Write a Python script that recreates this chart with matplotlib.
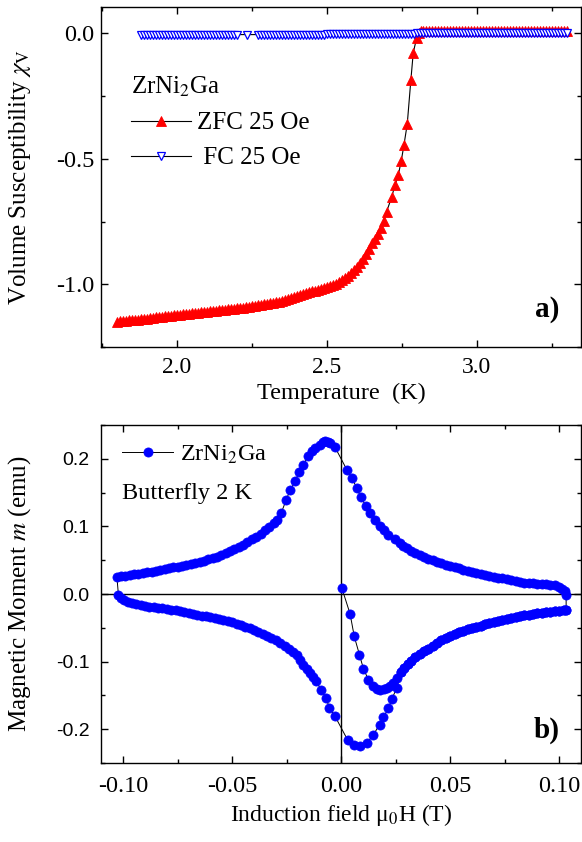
import matplotlib
matplotlib.use('Agg')
from matplotlib import pyplot as plt
from matplotlib.ticker import MultipleLocator

# ZFC susceptibility, 25 Oe
zfcT = [1.80, 1.81, 1.82, 1.83, 1.84, 1.85, 1.86, 1.87, 1.88, 1.89,
        1.90, 1.91, 1.92, 1.93, 1.94, 1.95, 1.96, 1.97, 1.98, 1.99,
        2.00, 2.01, 2.02, 2.03, 2.04, 2.05, 2.06, 2.07, 2.08, 2.09,
        2.10, 2.11, 2.12, 2.13, 2.14, 2.15, 2.16, 2.17, 2.18, 2.19,
        2.20, 2.21, 2.22, 2.23, 2.24, 2.25, 2.26, 2.27, 2.28, 2.29,
        2.30, 2.31, 2.32, 2.33, 2.34, 2.35, 2.36, 2.37, 2.38, 2.39,
        2.40, 2.41, 2.42, 2.43, 2.44, 2.45, 2.46, 2.47, 2.48, 2.49,
        2.50, 2.51, 2.52, 2.53, 2.54, 2.55, 2.56, 2.57, 2.58, 2.59,
        2.60, 2.61, 2.62, 2.63, 2.64, 2.65, 2.66, 2.67, 2.68, 2.69, 2.70,
        2.717, 2.728, 2.739, 2.749, 2.758, 2.769, 2.781, 2.789, 2.800, 2.808, 2.815,
        2.82, 2.83, 2.84, 2.85, 2.86, 2.87, 2.88, 2.89, 2.90, 2.91,
        2.92, 2.93, 2.94, 2.95, 2.96, 2.97, 2.98, 2.99, 3.00, 3.01,
        3.02, 3.03, 3.04, 3.05, 3.06, 3.07, 3.08, 3.09, 3.10, 3.11,
        3.12, 3.13, 3.14, 3.15, 3.16, 3.17, 3.18, 3.19, 3.20, 3.21,
        3.22, 3.23, 3.24, 3.25, 3.26, 3.27, 3.28, 3.29, 3.30]
zfcChi = [-1.149, -1.148, -1.147, -1.145, -1.144, -1.143, -1.142, -1.141, -1.139, -1.138,
          -1.137, -1.135, -1.134, -1.132, -1.131, -1.129, -1.128, -1.126, -1.125, -1.123,
          -1.122, -1.121, -1.119, -1.118, -1.117, -1.115, -1.114, -1.113, -1.111, -1.110,
          -1.109, -1.108, -1.106, -1.105, -1.104, -1.102, -1.101, -1.100, -1.098, -1.097,
          -1.096, -1.094, -1.093, -1.091, -1.090, -1.088, -1.086, -1.084, -1.082, -1.080,
          -1.078, -1.076, -1.074, -1.071, -1.069, -1.066, -1.063, -1.059, -1.055, -1.050,
          -1.046, -1.043, -1.039, -1.036, -1.032, -1.028, -1.025, -1.021, -1.018, -1.014,
          -1.010, -1.006, -1.002, -0.997, -0.991, -0.985, -0.976, -0.967, -0.957, -0.944,
          -0.930, -0.917, -0.900, -0.880, -0.858, -0.837, -0.818, -0.799, -0.777, -0.748, -0.711,
          -0.653, -0.605, -0.565, -0.508, -0.445, -0.361, -0.186, -0.077, -0.020, 0.002, 0.008,
          0.008, 0.008, 0.008, 0.008, 0.008, 0.008, 0.008, 0.008, 0.008, 0.008,
          0.008, 0.008, 0.008, 0.008, 0.008, 0.008, 0.008, 0.008, 0.008, 0.008,
          0.008, 0.008, 0.008, 0.008, 0.008, 0.008, 0.008, 0.008, 0.008, 0.008,
          0.008, 0.008, 0.008, 0.008, 0.008, 0.008, 0.008, 0.008, 0.008, 0.008,
          0.008, 0.008, 0.008, 0.008, 0.008, 0.008, 0.008, 0.008, 0.008]

# FC susceptibility, 25 Oe
fcT = [1.88, 1.89, 1.90, 1.91, 1.92, 1.93, 1.94, 1.95, 1.96, 1.97, 1.98, 1.99,
       2.00, 2.01, 2.02, 2.03, 2.04, 2.05, 2.06, 2.07, 2.08, 2.09,
       2.10, 2.11, 2.12, 2.13, 2.14, 2.15, 2.16, 2.17, 2.18, 2.19, 2.20,
       2.235,
       2.27, 2.28, 2.29, 2.30, 2.31, 2.32, 2.33, 2.34, 2.35, 2.36, 2.37, 2.38, 2.39,
       2.40, 2.41, 2.42, 2.43, 2.44, 2.45, 2.46, 2.47, 2.48, 2.49,
       2.50, 2.51, 2.52, 2.53, 2.54, 2.55, 2.56, 2.57, 2.58, 2.59,
       2.60, 2.61, 2.62, 2.63, 2.64, 2.65, 2.66, 2.67, 2.68, 2.69,
       2.70, 2.71, 2.72, 2.73, 2.74, 2.75, 2.76, 2.77, 2.78, 2.79,
       2.80, 2.81, 2.82, 2.83, 2.84, 2.85, 2.86, 2.87, 2.88, 2.89,
       2.90, 2.91, 2.92, 2.93, 2.94, 2.95, 2.96, 2.97, 2.98, 2.99,
       3.00, 3.01, 3.02, 3.03, 3.04, 3.05, 3.06, 3.07, 3.08, 3.09,
       3.10, 3.11, 3.12, 3.13, 3.14, 3.15, 3.16, 3.17, 3.18, 3.19,
       3.20, 3.21, 3.22, 3.23, 3.24, 3.25, 3.26, 3.27, 3.28, 3.29, 3.30]
fcChi = [-0.005, -0.005, -0.005, -0.005, -0.005, -0.005, -0.005, -0.005, -0.005, -0.005, -0.005, -0.005,
         -0.005, -0.005, -0.005, -0.005, -0.005, -0.005, -0.005, -0.005, -0.005, -0.005,
         -0.005, -0.005, -0.005, -0.005, -0.005, -0.005, -0.005, -0.005, -0.005, -0.005, -0.005,
         -0.005,
         -0.005, -0.005, -0.005, -0.005, -0.005, -0.005, -0.005, -0.005, -0.005, -0.005, -0.005, -0.005, -0.005,
         -0.005, -0.005, -0.005, -0.005, -0.005, -0.005, -0.005, -0.005, -0.005, -0.005,
         -0.004, -0.004, -0.004, -0.004, -0.004, -0.004, -0.004, -0.004, -0.004, -0.004,
         -0.004, -0.004, -0.004, -0.004, -0.004, -0.004, -0.004, -0.004, -0.004, -0.004,
         -0.003, -0.003, -0.003, -0.003, -0.003, -0.003, -0.003, -0.003, -0.003, -0.003,
         0.000, 0.000, 0.000, 0.000, 0.000, 0.000, 0.000, 0.000, 0.000, 0.000,
         0.000, 0.000, 0.000, 0.000, 0.000, 0.000, 0.000, 0.000, 0.000, 0.000,
         0.000, 0.000, 0.000, 0.000, 0.000, 0.000, 0.000, 0.000, 0.000, 0.000,
         0.000, 0.000, 0.000, 0.000, 0.000, 0.000, 0.000, 0.000, 0.000, 0.000,
         0.000, 0.000, 0.000, 0.000, 0.000, 0.000, 0.000, 0.000, 0.000, 0.000, 0.000]

# butterfly loop at 2 K: virgin curve from zero field
bVirgin = [0.0003, 0.0041, 0.0060, 0.0084, 0.0102, 0.0125, 0.0148, 0.0165, 0.0179,
           0.0195, 0.0209, 0.0223, 0.0237, 0.0255]
mVirgin = [0.0089, -0.0296, -0.0627, -0.0898, -0.1105, -0.1268, -0.1367, -0.1405, -0.1416,
           -0.1410, -0.1390, -0.1360, -0.1317, -0.1245]

# outer branch, positive field, field increasing
bOuter = [0.0275, 0.0290, 0.0305, 0.032, 0.034, 0.036, 0.038, 0.040, 0.042, 0.044,
          0.046, 0.048, 0.050, 0.052, 0.054, 0.056, 0.058, 0.060, 0.062, 0.064,
          0.066, 0.068, 0.070, 0.072, 0.074, 0.076, 0.078, 0.080, 0.082, 0.084,
          0.086, 0.088, 0.090, 0.092, 0.094, 0.096, 0.098, 0.100, 0.102, 0.1032]
mOuter = [-0.1150, -0.1090, -0.1035, -0.0985, -0.0935, -0.0890, -0.0848, -0.0808, -0.0770, -0.0723,
          -0.0685, -0.0652, -0.0622, -0.0594, -0.0568, -0.0545, -0.0523, -0.0503, -0.0484, -0.0466,
          -0.0449, -0.0432, -0.0410, -0.0395, -0.0381, -0.0367, -0.0354, -0.0341, -0.0329, -0.0317,
          -0.0305, -0.0295, -0.0285, -0.0276, -0.0268, -0.0260, -0.0252, -0.0245, -0.0238, -0.0232]

# field decreasing from +0.103 T to -0.103 T
bDown = [0.1032, 0.1025, 0.1015, 0.100, 0.098, 0.096, 0.094, 0.092, 0.090, 0.088,
         0.086, 0.084, 0.082, 0.080, 0.078, 0.076, 0.074, 0.072, 0.070, 0.068,
         0.066, 0.064, 0.062, 0.060, 0.058, 0.056, 0.054, 0.052, 0.050, 0.048,
         0.046, 0.044, 0.042, 0.040, 0.038, 0.036, 0.034, 0.032, 0.030, 0.0285,
         0.0271, 0.0245, 0.0217, 0.0195, 0.0179, 0.0156, 0.0133, 0.0115, 0.0090, 0.0072,
         0.0049, 0.0026, -0.0028, -0.0050, -0.0062, -0.0073, -0.0085, -0.0096, -0.0120, -0.0134,
         -0.0153, -0.0173, -0.0193, -0.0211, -0.0234, -0.0252, -0.0275, -0.0295,
         -0.031, -0.033, -0.035, -0.037, -0.039, -0.041, -0.043, -0.045, -0.047, -0.049,
         -0.051, -0.053, -0.055, -0.057, -0.059, -0.061, -0.063, -0.065, -0.067, -0.069,
         -0.071, -0.073, -0.075, -0.077, -0.079, -0.081, -0.083, -0.085, -0.087, -0.089,
         -0.091, -0.093, -0.095, -0.097, -0.099, -0.101, -0.1029]
mDown = [-0.0010, 0.0040, 0.0075, 0.0105, 0.0128, 0.0140, 0.0146, 0.0150, 0.0155, 0.0159,
         0.0163, 0.0170, 0.0180, 0.0192, 0.0204, 0.0217, 0.0230, 0.0244, 0.0258, 0.0272,
         0.0286, 0.0300, 0.0314, 0.0329, 0.0345, 0.0362, 0.0380, 0.0398, 0.0416, 0.0435,
         0.0455, 0.0476, 0.0498, 0.0521, 0.0546, 0.0574, 0.0605, 0.0640, 0.0680, 0.0712,
         0.0754, 0.0810, 0.0877, 0.0940, 0.1000, 0.1100, 0.1200, 0.1296, 0.1430, 0.1568,
         0.1716, 0.1839, 0.2170, 0.2230, 0.2255, 0.2265, 0.2255, 0.2210, 0.2160, 0.2110,
         0.2036, 0.1910, 0.1810, 0.1666, 0.1540, 0.1395, 0.1200, 0.1100,
         0.1045, 0.0990, 0.0940, 0.0892, 0.0850, 0.0808, 0.0768, 0.0730, 0.0695, 0.0662,
         0.0632, 0.0603, 0.0577, 0.0553, 0.0532, 0.0513, 0.0496, 0.0480, 0.0464, 0.0449,
         0.0434, 0.0420, 0.0407, 0.0394, 0.0381, 0.0368, 0.0356, 0.0344, 0.0332, 0.0321,
         0.0310, 0.0299, 0.0289, 0.0280, 0.0271, 0.0263, 0.0255]

# field increasing from -0.103 T back through zero
bUp = [-0.1022, -0.1010, -0.0995, -0.098, -0.096, -0.094, -0.092, -0.090, -0.088, -0.086,
       -0.084, -0.082, -0.080, -0.078, -0.076, -0.074, -0.072, -0.070, -0.068, -0.066,
       -0.064, -0.062, -0.060, -0.058, -0.056, -0.054, -0.052, -0.050, -0.048, -0.046,
       -0.044, -0.042, -0.040, -0.038, -0.036, -0.034, -0.032, -0.030, -0.028, -0.026,
       -0.024, -0.022, -0.0203, -0.0188, -0.0173, -0.0157, -0.0142, -0.0128, -0.0115, -0.0093,
       -0.0069, -0.0054, -0.0028, 0.0029, 0.0057, 0.0087, 0.0118, 0.0148, 0.0176, 0.0194,
       0.0217, 0.0233, 0.0255]
mUp = [-0.0010, -0.0060, -0.0095, -0.0115, -0.0135, -0.0150, -0.0165, -0.0177, -0.0187, -0.0196,
       -0.0205, -0.0214, -0.0223, -0.0233, -0.0243, -0.0254, -0.0266, -0.0279, -0.0292, -0.0305,
       -0.0318, -0.0331, -0.0344, -0.0357, -0.0370, -0.0385, -0.0400, -0.0418, -0.0437, -0.0458,
       -0.0481, -0.0506, -0.0532, -0.0559, -0.0587, -0.0617, -0.0648, -0.0682, -0.0722, -0.0765,
       -0.0812, -0.0860, -0.0898, -0.0970, -0.1046, -0.1110, -0.1170, -0.1225, -0.1280, -0.1416,
       -0.1540, -0.1686, -0.1810, -0.2155, -0.2230, -0.2254, -0.2204, -0.2080, -0.1933, -0.1825,
       -0.1686, -0.1549, -0.1390]

plt.rcParams['font.family'] = 'Liberation Serif'
plt.rcParams['mathtext.fontset'] = 'stix'
plt.rcParams['axes.linewidth'] = 1.0

fig = plt.figure(figsize=(5.82, 8.42), dpi=100)
ax1 = fig.add_axes([0.1735, 0.5879, 0.8247, 0.4038])
ax2 = fig.add_axes([0.1735, 0.0938, 0.8247, 0.4014])

for ax in (ax1, ax2):
    ax.tick_params(which='both', direction='in', top=True, right=True, width=1.0)
    ax.tick_params(which='major', length=5)
    ax.tick_params(which='minor', length=3)

#top panel: ZFC / FC susceptibility
ax1.plot(zfcT, zfcChi, '-', color='black', lw=0.8, marker='^', ms=6.8,
         mfc='red', mec='red', mew=0.6, label='ZFC 25 Oe')
ax1.plot(fcT, fcChi, '-', color='black', lw=0.8, marker='v', ms=5.4,
         mfc='white', mec='blue', mew=0.9, label=' FC 25 Oe')
ax1.set_xlim(1.748, 3.348)
ax1.set_ylim(-1.25, 0.105)
ax1.xaxis.set_major_locator(MultipleLocator(0.5))
ax1.xaxis.set_minor_locator(MultipleLocator(0.25))
ax1.yaxis.set_major_locator(MultipleLocator(0.5))
ax1.yaxis.set_minor_locator(MultipleLocator(0.25))
ax1.xaxis.set_major_formatter(lambda v, p: f'{v:.1f}')
ax1.yaxis.set_major_formatter(lambda v, p: f'{v:.1f}')
ax1.tick_params(axis='x', labelsize=17, pad=7)
ax1.tick_params(axis='y', labelsize=17.5, pad=5)
ax1.set_xlabel('Temperature  (K)', fontsize=17.5, labelpad=4)
ax1.set_ylabel(r'Volume Susceptibility $\chi_\mathrm{V}$', fontsize=18, labelpad=16)
ax1.legend(loc='upper left', bbox_to_anchor=(0.062, 0.80), frameon=False,
           title=r'ZrNi$_2$Ga', title_fontsize=18, fontsize=18, alignment='left',
           handlelength=2.4, handletextpad=0.25, labelspacing=0.5,
           borderpad=0, borderaxespad=0)
ax1.text(0.929, 0.109, 'a)', transform=ax1.transAxes, fontsize=21,
         fontweight='bold', ha='center', va='center')

#bottom panel: butterfly loop
bLoop = bVirgin + bOuter + bDown + bUp + bOuter
mLoop = mVirgin + mOuter + mDown + mUp + mOuter
ax2.axhline(0, color='black', lw=1.0, zorder=1)
ax2.axvline(0, color='black', lw=1.0, zorder=1)
ax2.plot(bLoop, mLoop, '-', color='black', lw=0.7, marker='o', ms=6.6,
         mfc='blue', mec='blue', mew=0.5, zorder=2, label=r'ZrNi$_2$Ga')
ax2.set_xlim(-0.1102, 0.1100)
ax2.set_ylim(-0.25, 0.25)
ax2.xaxis.set_major_locator(MultipleLocator(0.05))
ax2.xaxis.set_minor_locator(MultipleLocator(0.025))
ax2.yaxis.set_major_locator(MultipleLocator(0.1))
ax2.yaxis.set_minor_locator(MultipleLocator(0.05))
ax2.xaxis.set_major_formatter(lambda v, p: f'{v:.2f}')
ax2.yaxis.set_major_formatter(lambda v, p: f'{v:.1f}')
ax2.tick_params(axis='x', labelsize=17.5, pad=9)
ax2.tick_params(axis='y', labelsize=14, pad=8, labelfontfamily='Liberation Sans')
ax2.set_xlabel(r'Induction field μ$_0$H (T)', fontsize=17, labelpad=4)
ax2.set_ylabel(r'Magnetic Moment $m$ (emu)', fontsize=18, labelpad=17)
ax2.legend(loc='center left', bbox_to_anchor=(0.044, 0.911), frameon=False,
           fontsize=17.5, handlelength=2.1, handletextpad=0.3,
           borderpad=0, borderaxespad=0)
ax2.text(0.044, 0.796, 'Butterfly 2 K', transform=ax2.transAxes, fontsize=17.5,
         ha='left', va='center')
ax2.text(0.929, 0.098, 'b)', transform=ax2.transAxes, fontsize=21,
         fontweight='bold', ha='center', va='center')

fig.savefig('out.png', dpi=100)
